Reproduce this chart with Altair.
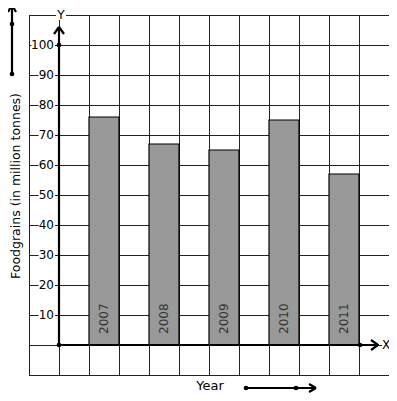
import altair as alt
import pandas as pd

# ---- data ----
years = ["2007", "2008", "2009", "2010", "2011"]
foodgrains = [76, 67, 65, 75, 57]
tick_values = [100, 90, 80, 70, 60, 50, 40, 30, 20, 10]
tick_labels = [str(v) for v in tick_values]
y_title = "Foodgrains (in million tonnes)"
x_title = "Year"

# ---- scales (grid: 12 columns x 12 rows, y axis at column 0) ----
W = H = 360
xs = alt.Scale(domain=[-1, 11])
ys = alt.Scale(domain=[-10, 110])
FONT = "DejaVu Sans"


def dx(px):
    return (px - 29) / 30 - 1


def dy(py):
    return (345 - py) / 3


def X(f="x"):
    return alt.X(f"{f}:Q", scale=xs, axis=None)


def Y(f="y"):
    return alt.Y(f"{f}:Q", scale=ys, axis=None)


# grid
vgrid = pd.DataFrame({"x": list(range(-1, 12)), "y": -10, "y2": 110})
hgrid = pd.DataFrame({"y": list(range(-10, 111, 10)), "x": -1, "x2": 11})
grid_v = alt.Chart(vgrid).mark_rule(color="#222", strokeWidth=1, xOffset=0.5).encode(
    x=X(), y=Y(), y2="y2:Q")
grid_h = alt.Chart(hgrid).mark_rule(color="#222", strokeWidth=1, yOffset=0.5).encode(
    y=Y(), x=X(), x2="x2:Q")

# bars
bars_df = pd.DataFrame({
    "year": years,
    "value": foodgrains,
    "x": [2 * i + 1 for i in range(len(years))],
})
bars_df["x2"] = bars_df["x"] + 1
bars_df["xc"] = bars_df["x"] + 0.5
bars_df["y0"] = 0
bars_df["ylab"] = dy(334)
bars = alt.Chart(bars_df).mark_rect(fill="#999999", stroke="black", strokeWidth=1.2).encode(
    x=X(), x2="x2:Q", y=Y("y0"), y2="value:Q")
bar_text = alt.Chart(bars_df).mark_text(
    angle=270, align="left", baseline="middle", font=FONT, fontSize=12, color="#333"
).encode(x=X("xc"), y=Y("ylab"), text="year:N")

# tick labels with white background
tl = pd.DataFrame({"v": tick_values, "label": tick_labels})
tl["x"] = dx(54)
tl["bx"] = [dx(54 - 7.2 * len(s) - 1) for s in tick_labels]
tl["bx2"] = dx(55)
tl["by"] = tl["v"] - 1.6
tl["by2"] = tl["v"] + 1.6
tick_bg = alt.Chart(tl).mark_rect(fill="white").encode(
    x=X("bx"), x2="bx2:Q", y=Y("by"), y2="by2:Q")
tick_txt = alt.Chart(tl).mark_text(
    align="right", baseline="middle", font=FONT, fontSize=12, color="black"
).encode(x=X(), y=Y("v"), text="label:N")

# axes lines (thick)
segs_px = [
    (59, 345, 59, 27),     # y axis
    (59, 345, 379, 345),   # x axis
    (54, 34, 59, 27), (64, 34, 59, 27),      # y arrow
    (371, 340, 378, 345), (371, 350, 378, 345),  # x arrow
    (12, 74, 12, 5), (8, 12, 12, 5), (16, 12, 12, 5),  # left arrow
    (246, 388, 316, 388), (309, 384, 316, 388), (309, 392, 316, 388),  # bottom arrow
]
segs = pd.DataFrame({
    "x": [dx(s[0]) for s in segs_px], "y": [dy(s[1]) for s in segs_px],
    "x2": [dx(s[2]) for s in segs_px], "y2": [dy(s[3]) for s in segs_px],
})
axis_lines = alt.Chart(segs).mark_rule(color="black", strokeWidth=2.2).encode(
    x=X(), y=Y(), x2="x2:Q", y2="y2:Q")

dots_px = [(59, 45), (59, 345), (360, 345), (12, 24), (12, 74), (246, 388), (296, 388)]
dots = pd.DataFrame({"x": [dx(p[0]) for p in dots_px], "y": [dy(p[1]) for p in dots_px]})
dot_layer = alt.Chart(dots).mark_circle(color="black", size=22, opacity=1).encode(x=X(), y=Y())

# letters with white background
letters = pd.DataFrame({
    "t": ["Y", "X"],
    "x": [dx(61), dx(386)],
    "y": [dy(15), dy(345)],
    "bx": [dx(56), dx(382)], "bx2": [dx(66), dx(391)],
    "by": [dy(20), dy(351)], "by2": [dy(9), dy(339)],
})
let_bg = alt.Chart(letters).mark_rect(fill="white").encode(
    x=X("bx"), x2="bx2:Q", y=Y("by"), y2="by2:Q")
let_txt = alt.Chart(letters).mark_text(
    align="center", baseline="middle", font=FONT, fontSize=12, color="black"
).encode(x=X(), y=Y(), text="t:N")

titles = pd.DataFrame({
    "t": [y_title, x_title],
    "x": [dx(16), dx(210)],
    "y": [dy(186), dy(386)],
})
ytitle = alt.Chart(titles.iloc[[0]]).mark_text(
    angle=270, align="center", baseline="middle", font=FONT, fontSize=12.5, color="black"
).encode(x=X(), y=Y(), text="t:N")
xtitle = alt.Chart(titles.iloc[[1]]).mark_text(
    align="center", baseline="middle", font=FONT, fontSize=13, color="black"
).encode(x=X(), y=Y(), text="t:N")

chart = alt.layer(
    grid_v, grid_h, bars, bar_text, tick_bg, tick_txt, let_bg,
    axis_lines, dot_layer, let_txt, ytitle, xtitle
).properties(
    width=W, height=H,
    autosize=alt.AutoSizeParams(type="none"),
    padding={"left": 21, "top": 7, "right": 0, "bottom": 18},
).configure_view(stroke=None).configure(background="white")

chart.save("out.html", embed_options={"renderer": "svg", "actions": False})
